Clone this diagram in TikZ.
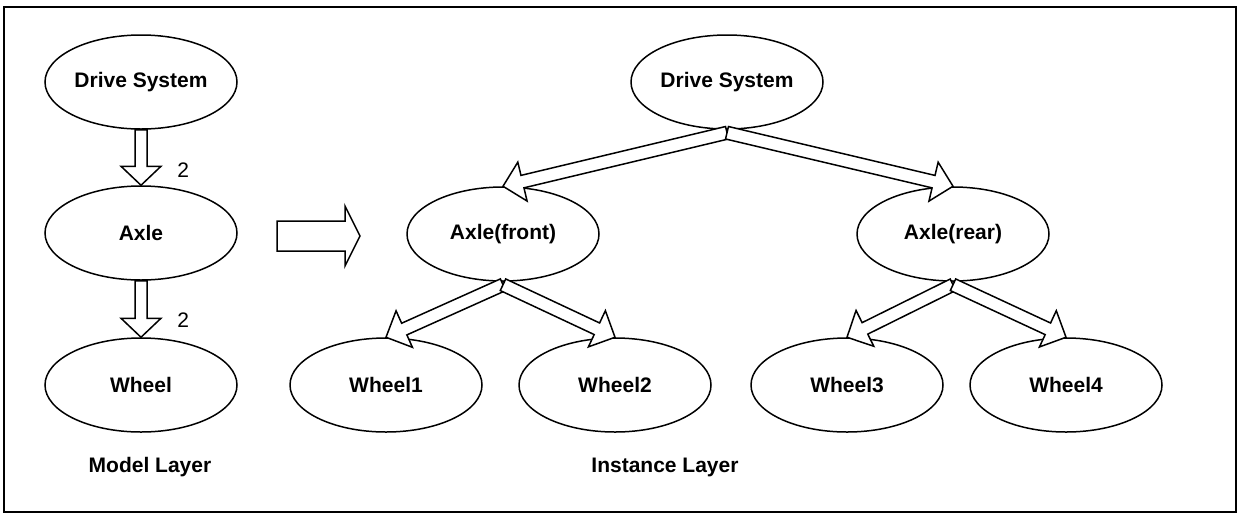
\documentclass[tikz,border=0pt]{standalone}
\usepackage{fontspec}
\setmainfont{Liberation Sans}
\usetikzlibrary{calc,positioning,shapes.geometric}
\tikzset{every picture/.style = {x=0.5pt, y=-0.5pt, line width=0.75pt}}
\tikzset{part/.style = {draw, ellipse, fill=white, inner sep=0,
    minimum width=96pt, minimum height=47pt,
    font=\bfseries\fontsize{10.5}{12}\selectfont}}
\tikzset{cnt/.style = {font=\fontsize{10.5}{12}\selectfont, anchor=west}}
\tikzset{layer/.style = {font=\bfseries\fontsize{10.5}{12}\selectfont}}
\tikzset{fat/.style = {draw, fill=white, line join=miter}}

% hollow block arrow: tail, tip, shaft half width, head half width, head length
\newcommand{\fatarrow}[5]{%
  \coordinate (hb) at ($(#2)!#5!(#1)$);
  \draw[fat] ($(#1)!#3!90:(#2)$) -- ($(hb)!#3!-90:(#1)$)
    -- ($(hb)!#4!-90:(#1)$) -- (#2) -- ($(hb)!#4!90:(#1)$)
    -- ($(hb)!#3!90:(#1)$) -- ($(#1)!#3!-90:(#2)$) -- cycle;}

\begin{document}
\begin{tikzpicture}
  \useasboundingbox (0, 0) rectangle (1240, 515);
  \draw[line width=1pt] (4, 7) rectangle (1236, 512);

  % model layer
  \node[part] (mds) at (141, 82) {Drive System};
  \node[part] (max) at (141, 233) {Axle};
  \node[part] (mwh) at (141, 385) {Wheel};
  \fatarrow{mds.south}{max.north}{3pt}{10pt}{9.5pt}
  \fatarrow{max.south}{mwh.north}{3pt}{10pt}{9.5pt}
  \node[cnt] (n1) at (170, 170) {2};
  \node[cnt] (n2) at (170, 320) {2};
  \node[layer] (ml) at (150, 467) {Model Layer};

  % model -> instance
  \coordinate (bs) at (277, 236);
  \coordinate (be) at (360, 236);
  \fatarrow{bs}{be}{7.5pt}{15pt}{7.5pt}

  % instance layer
  \node[part] (ids) at (727, 82) {Drive System};
  \node[part] (iaf) at (503, 234) {Axle(front)};
  \node[part] (iar) at (953, 234) {Axle(rear)};
  \node[part] (iw1) at (386, 385) {Wheel1};
  \node[part] (iw2) at (615, 385) {Wheel2};
  \node[part] (iw3) at (847, 385) {Wheel3};
  \node[part] (iw4) at (1066, 385) {Wheel4};
  \coordinate (dst) at ([yshift=-1.5pt]ids.south);
  \coordinate (aft) at ([yshift=-1.5pt]iaf.south);
  \coordinate (art) at ([yshift=-1.5pt]iar.south);
  \fatarrow{dst}{iaf.north}{3.2pt}{10pt}{10pt}
  \fatarrow{dst}{iar.north}{3.2pt}{10pt}{10pt}
  \fatarrow{aft}{iw1.north}{3.2pt}{10pt}{10pt}
  \fatarrow{aft}{iw2.north}{3.2pt}{10pt}{10pt}
  \fatarrow{art}{iw3.north}{3.2pt}{10pt}{10pt}
  \fatarrow{art}{iw4.north}{3.2pt}{10pt}{10pt}
  \node[layer] (il) at (665, 467) {Instance Layer};
\end{tikzpicture}
\end{document}
